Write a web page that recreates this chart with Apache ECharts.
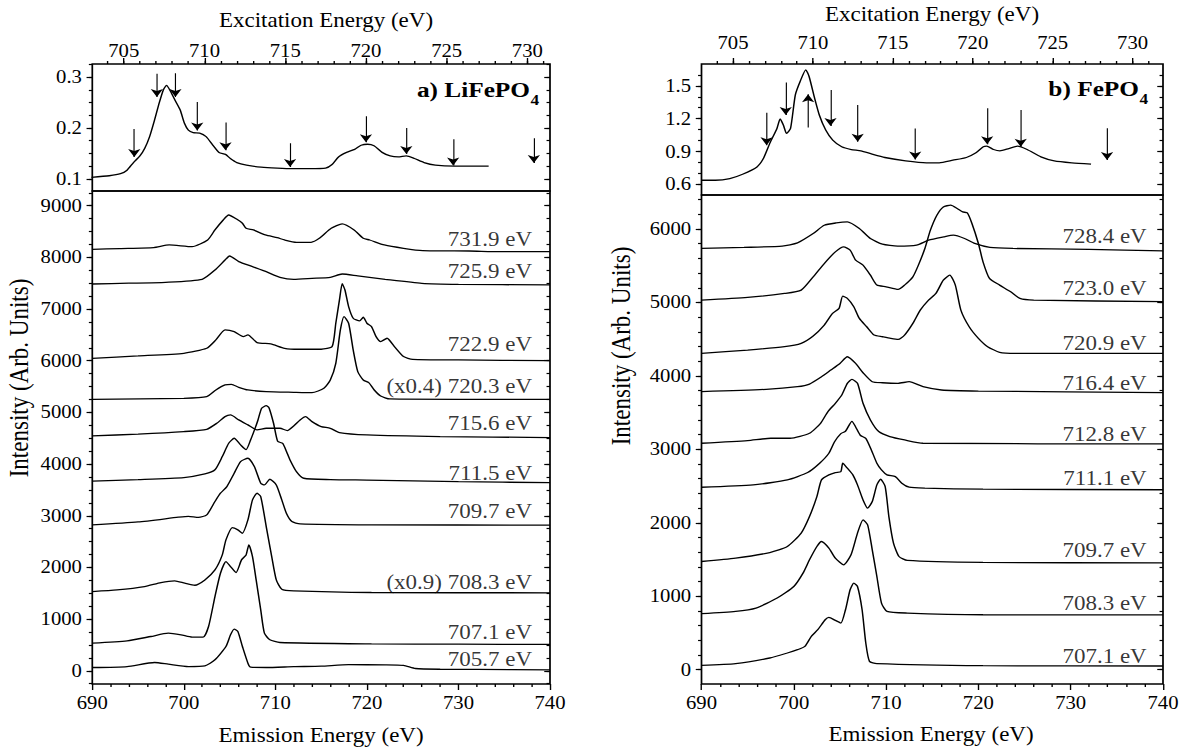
<!DOCTYPE html>
<html>
<head>
<meta charset="utf-8">
<script src="https://cdn.jsdelivr.net/npm/echarts@6.0.0/dist/echarts.min.js"></script>
<style>
  html, body { margin: 0; padding: 0; background: #fff; overflow: hidden; }
  /* the source figure is stretched sideways, so the chart is drawn narrower and widened */
  #main { width: 1030px; height: 752px; transform: scaleX(1.1505); transform-origin: 0 0; }
</style>
</head>
<body>
<div id="main"></div>
<script>
// ---- a) LiFePO4 absorption (excitation energy, arb. units)
const lfpXas = [[703.0,0.103],[704.1,0.106],[704.8,0.11],[705.2,0.117],[705.6,0.132],[706.0,0.145],[706.3,0.16],[706.6,0.183],[706.9,0.215],[707.2,0.25],[707.45,0.275],[707.65,0.284],[707.9,0.272],[708.2,0.253],[708.5,0.235],[708.75,0.21],[709.0,0.196],[709.3,0.191],[709.7,0.19],[710.1,0.183],[710.5,0.167],[710.9,0.152],[711.3,0.148],[711.6,0.14],[712.0,0.132],[712.6,0.127],[713.5,0.123],[714.5,0.121],[715.5,0.12],[716.5,0.12],[717.5,0.121],[717.9,0.128],[718.3,0.143],[718.8,0.152],[719.3,0.158],[719.7,0.166],[720.1,0.168],[720.5,0.165],[721.0,0.152],[721.5,0.145],[722.0,0.143],[722.5,0.145],[723.0,0.14],[723.6,0.132],[724.3,0.127],[725.5,0.125],[727.6,0.125]];
const lfpArrowX    = [705.65, 707.05, 708.2, 709.55, 711.3, 715.3, 720.0, 722.5, 725.4, 730.4];
const lfpArrowFrom = [0.198, 0.307, 0.308, 0.251, 0.211, 0.170, 0.223, 0.200, 0.178, 0.180];
const lfpArrowTo   = [0.143, 0.261, 0.261, 0.195, 0.156, 0.123, 0.172, 0.149, 0.126, 0.131];

// ---- a) LiFePO4 emission spectra (emission energy, intensity)
const lfp7319 = [[690,8155],[693,8170],[696.7,8188],[698.4,8240],[700.9,8207],[702.6,8336],[703.4,8530],[704.3,8723],[704.9,8820],[705.8,8736],[706.4,8659],[706.8,8562],[707.6,8530],[708.9,8433],[710.2,8381],[711,8336],[712.3,8291],[713.9,8291],[714.8,8368],[716.1,8562],[717.3,8646],[718.6,8530],[719.6,8368],[720.3,8336],[721.9,8240],[724,8175],[726.1,8130],[731.2,8123],[734.5,8110],[740,8110]];
const lfp7259 = [[690,7485],[694,7500],[698,7517],[702,7575],[703.4,7755],[704.5,7949],[705,8026],[706,7917],[707.5,7820],[709,7723],[710.5,7614],[712,7575],[714,7594],[716,7614],[717.3,7678],[719,7640],[722,7575],[726,7498],[730,7478],[740,7466]];
const lfp7229 = [[690,6047],[695,6093],[700,6144],[702.5,6241],[703.5,6403],[704.5,6596],[705.5,6564],[706.5,6467],[707,6500],[708,6352],[709.5,6326],[711,6241],[712.5,6222],[715,6222],[716.2,6274],[716.6,6725],[717,7176],[717.3,7490],[717.6,7369],[718,7047],[718.5,6822],[719.2,6770],[719.6,6841],[720,6725],[720.5,6661],[721,6467],[721.5,6371],[722.2,6435],[723,6274],[724,6080],[725,6028],[730,6015],[740,6002]];
const lfp7203 = [[690,5254],[700,5273],[702.5,5305],[703.5,5434],[704.5,5531],[705.2,5544],[706,5486],[707,5434],[709,5402],[712,5389],[714,5382],[715.3,5466],[716,5627],[716.6,5950],[717.1,6596],[717.5,6854],[718,6725],[718.5,6209],[719,5789],[719.6,5627],[720.2,5576],[720.8,5434],[721.5,5318],[722.5,5260],[730,5254],[740,5254]];
const lfp7156 = [[690,4545],[695,4580],[700,4629],[702.5,4674],[703.6,4790],[704.5,4919],[705.1,4951],[706,4855],[707,4758],[708,4661],[709,4693],[710.5,4693],[711.3,4648],[712,4738],[712.7,4855],[713.3,4919],[714,4822],[715,4726],[716,4693],[717,4610],[720,4565],[728,4533],[740,4513]];
const lfp7115 = [[690,3670],[695,3700],[700,3740],[702.3,3810],[703.4,3890],[704.2,4145],[704.9,4403],[705.5,4500],[706.2,4371],[706.8,4280],[707.3,4470],[707.8,4700],[708.1,4854],[708.5,5080],[709,5130],[709.3,5090],[709.8,4790],[710.25,4440],[710.8,4400],[711.2,4250],[711.6,4081],[712.3,3855],[713.1,3726],[716,3700],[720,3690],[730,3660],[740,3640]];
const lfp7097 = [[690,2824],[695,2880],[699.4,2972],[700.5,2990],[701.6,2970],[702.5,3017],[703.4,3275],[704,3436],[704.7,3565],[705.5,3823],[706.2,4049],[707,4113],[707.7,3952],[708.4,3630],[708.8,3597],[709.4,3707],[710.1,3597],[710.7,3307],[711.2,3049],[711.8,2888],[712.7,2843],[720.5,2824],[740,2820]];
const lfp7083 = [[690,1534],[692.7,1566],[695.7,1630],[697.5,1708],[699,1740],[700.1,1695],[701.2,1656],[702.3,1759],[703.4,1952],[704.2,2243],[704.6,2533],[705.3,2771],[705.9,2727],[706.4,2662],[707,2920],[707.5,3307],[708,3436],[708.4,3371],[709,2791],[709.6,2211],[710.1,1759],[710.7,1579],[712,1547],[720.5,1515],[740,1510]];
const lfp7071 = [[690,535],[693.8,580],[696.4,664],[698.3,728],[699.7,696],[700.9,651],[702.1,651],[702.7,857],[703.4,1437],[704,1888],[704.6,2114],[705.1,2017],[705.7,1901],[706.3,2146],[706.8,2243],[707.1,2437],[707.5,2211],[707.9,1759],[708.4,1179],[708.8,728],[709.4,600],[710.5,548],[720.5,522],[730,515],[740,510]];
const lfp7057 = [[690,64],[693.8,83],[696.8,161],[698.3,129],[700.5,83],[702.3,96],[703.4,213],[704.6,470],[705.1,696],[705.5,806],[705.9,761],[706.4,470],[707,148],[707.3,70],[709,64],[712,80],[715,90],[718,118],[722,116],[724,105],[725.3,45],[728,30],[732,28],[740,20]];
const lfpSpectra = [lfp7319, lfp7259, lfp7229, lfp7203, lfp7156, lfp7115, lfp7097, lfp7083, lfp7071, lfp7057];
const lfpLabels  = ['731.9 eV', '725.9 eV', '722.9 eV', '(x0.4) 720.3 eV', '715.6 eV', '711.5 eV', '709.7 eV', '(x0.9) 708.3 eV', '707.1 eV', '705.7 eV'];
const lfpLabelY  = [8337, 7723, 6306, 5499, 4791, 3824, 3081, 1708, 741, 213];

// ---- b) FePO4 absorption
const fpXas = [[703.0,0.637],[703.9,0.637],[704.8,0.652],[705.6,0.692],[706.5,0.759],[706.9,0.836],[707.3,0.974],[707.75,1.111],[707.95,1.197],[708.15,1.142],[708.35,1.065],[708.6,1.111],[708.9,1.417],[709.2,1.54],[709.55,1.647],[709.76,1.586],[710.08,1.402],[710.4,1.234],[710.8,1.096],[711.24,1.004],[711.8,0.943],[712.4,0.918],[713,0.906],[713.7,0.876],[714.5,0.845],[715.8,0.814],[717.1,0.796],[717.9,0.796],[718.76,0.82],[719.6,0.845],[720.2,0.888],[720.66,0.943],[720.87,0.949],[721.3,0.918],[721.7,0.906],[722.25,0.927],[722.8,0.949],[723.4,0.918],[724.26,0.851],[725.1,0.814],[726.2,0.796],[727.4,0.784]];
const fpArrowX    = [707.1, 708.3, 709.7, 711.1, 712.8, 716.4, 720.9, 723.0, 728.4];
const fpArrowFrom = [1.255, 1.53, 1.12, 1.463, 1.326, 1.111, 1.295, 1.28, 1.113];
const fpArrowTo   = [0.958, 1.234, 1.423, 1.133, 0.989, 0.827, 0.967, 0.943, 0.822];

// ---- b) FePO4 emission spectra
const fp7284 = [[690,5735],[694.6,5749],[698.75,5767],[700.4,5811],[702.1,5938],[703.3,6051],[704.6,6083],[705.8,6097],[707.1,6007],[708.3,5871],[709.6,5794],[711.25,5767],[713.3,5780],[714.6,5848],[716.25,5893],[717.3,5916],[718.5,5871],[719.6,5803],[721.25,5749],[723.75,5735],[732,5722],[740,5703]];
const fp7230 = [[690,5032],[695,5068],[699,5123],[700.8,5168],[702.1,5349],[703.3,5530],[704.5,5689],[705.4,5757],[706.1,5712],[706.7,5576],[707.5,5508],[708.3,5372],[709,5236],[710,5213],[711.3,5177],[712,5236],[712.9,5349],[713.5,5508],[714.2,5735],[714.8,5984],[715.5,6188],[716.2,6301],[717,6324],[717.7,6279],[718.3,6233],[718.8,6219],[719.3,6075],[720,5803],[720.5,5553],[721.2,5327],[722.3,5236],[723.5,5145],[724.5,5055],[726,5032],[740,5010]];
const fp7209 = [[690,4307],[695,4352],[699,4398],[700.8,4443],[702.1,4543],[703.3,4692],[704.2,4851],[704.9,4919],[705.3,5086],[705.8,5055],[706.5,4942],[707.1,4783],[707.9,4669],[708.7,4556],[709.6,4533],[710.5,4511],[711.3,4497],[712,4556],[712.9,4715],[713.7,4896],[714.6,5032],[715.4,5123],[716.2,5304],[716.9,5372],[717.5,5236],[718.1,4896],[719,4669],[720,4511],[721,4398],[722.3,4321],[724,4307],[740,4307]];
const fp7164 = [[690,3785],[697,3817],[700.4,3853],[701.7,3889],[703,3989],[704,4079],[705,4170],[705.8,4261],[706.7,4170],[707.5,4043],[708.5,3921],[709.6,3907],[711.3,3899],[712.5,3921],[714,3853],[716,3808],[720,3794],[740,3771]];
const fp7128 = [[690,3083],[695,3119],[697.5,3151],[699.6,3151],[701.7,3219],[702.9,3355],[703.7,3514],[704.5,3627],[705.2,3740],[705.8,3899],[706.3,3953],[706.9,3899],[707.5,3627],[708.3,3400],[709.2,3242],[710.4,3174],[712,3128],[714,3083],[740,3074]];
const fp7111 = [[690,2484],[695.6,2516],[699.3,2584],[701.5,2684],[702.8,2811],[703.8,2947],[704.4,3100],[705.1,3214],[705.6,3246],[706.3,3382],[706.7,3305],[707.2,3192],[707.8,3150],[708.4,2992],[709,2811],[709.5,2720],[710.1,2652],[711,2629],[711.7,2539],[712.5,2484],[714.2,2471],[720.5,2457],[740,2450]];
const fp7097 = [[690,1473],[693.7,1518],[697.4,1595],[699.3,1677],[700.8,1859],[701.7,2085],[702.5,2357],[703,2584],[703.8,2652],[704.5,2684],[705.1,2697],[705.3,2811],[705.8,2743],[706.4,2652],[706.9,2516],[707.5,2312],[708,2199],[708.5,2289],[709,2516],[709.4,2593],[709.9,2493],[710.3,2085],[710.8,1723],[711.4,1541],[712.3,1487],[720.5,1460],[740,1455]];
const fp7083 = [[690,762],[693.7,794],[695.9,839],[698.2,975],[700,1133],[701,1315],[701.7,1496],[702.5,1677],[703,1745],[703.8,1655],[704.5,1518],[705.4,1428],[706.2,1564],[706.9,1859],[707.5,2040],[708,1972],[708.5,1632],[709,1269],[709.5,907],[710.1,794],[712.3,771],[720.5,748],[740,745]];
const fp7071 = [[690,59],[693.7,82],[697.4,159],[699.3,227],[700.4,272],[701.2,317],[701.9,454],[702.6,544],[703.4,680],[703.8,712],[704.5,671],[705.1,635],[705.6,816],[706.1,1088],[706.5,1179],[706.9,1133],[707.4,816],[707.8,363],[708.2,113],[709,82],[720.5,54],[740,50]];
const fpSpectra = [fp7284, fp7230, fp7209, fp7164, fp7128, fp7111, fp7097, fp7083, fp7071];
const fpLabels  = ['728.4 eV', '723.0 eV', '720.9 eV', '716.4 eV', '712.8 eV', '711.1 eV', '709.7 eV', '708.3 eV', '707.1 eV'];
const fpLabelY  = [5895, 5193, 4445, 3901, 3197, 2608, 1619, 898, 173];

// tick values
const excMajor = [705, 710, 715, 720, 725, 730];
const excMinor = [704,705,706,707,708,709,710,711,712,713,714,715,716,717,718,719,720,721,722,723,724,725,726,727,728,729,730,731];
const lfpXasTicks = [0.1, 0.2, 0.3];
const lfpXasMinor = [0.1, 0.125, 0.15, 0.175, 0.2, 0.225, 0.25, 0.275, 0.3, 0.325];
const lfpRxsTicks = [0, 1000, 2000, 3000, 4000, 5000, 6000, 7000, 8000, 9000];
const fpXasTicks = [0.6, 0.9, 1.2, 1.5];
const fpXasMinor = [0.6, 0.7, 0.8, 0.9, 1.0, 1.1, 1.2, 1.3, 1.4, 1.5, 1.6];
const fpRxsTicks = [0, 1000, 2000, 3000, 4000, 5000, 6000];

function steps(from, to, step) {
  const out = [];
  for (let v = from; v <= to + 1e-9; v += step) out.push(v);
  return out;
}
const lfpRxsMinor = steps(-250, 9250, 250);
const fpRxsMinor = steps(0, 6400, 200);

// page x (in the 1185 px picture) -> chart x (the div is widened by 1.1505)
const SX = 1.1505;
const X = px => px / SX;

const FONT = 'Liberation Serif';
const lbl = { fontFamily: FONT, fontSize: 18, color: '#000' };
const tickLine = { color: '#000', width: 1.2 };

function yAxes(grid, min, max, major, minor, digits) {
  const base = { type: 'value', gridIndex: grid, min: min, max: max,
    axisLine: { show: false, onZero: false }, splitLine: { show: false } };
  return [
    Object.assign({}, base, { position: 'left',
      axisTick: { customValues: major, length: 5, lineStyle: tickLine },
      axisLabel: Object.assign({ customValues: major, margin: 9,
        formatter: v => Number(v).toFixed(digits) }, lbl) }),
    Object.assign({}, base, { position: 'left',
      axisTick: { customValues: minor, length: 3, lineStyle: tickLine },
      axisLabel: { show: false, customValues: minor } }),
    Object.assign({}, base, { position: 'right',
      axisTick: { customValues: major, inside: true, length: 5, lineStyle: tickLine },
      axisLabel: { show: false, customValues: major } }),
    Object.assign({}, base, { position: 'right',
      axisTick: { customValues: minor, inside: true, length: 3, lineStyle: tickLine },
      axisLabel: { show: false, customValues: minor } })
  ];
}

function excAxes(grid, min, max, margin) {
  const base = { type: 'value', gridIndex: grid, min: min, max: max, position: 'top',
    axisLine: { show: false, onZero: false }, splitLine: { show: false } };
  return [
    Object.assign({}, base, {
      axisTick: { customValues: excMajor, length: 6, lineStyle: tickLine },
      axisLabel: Object.assign({ customValues: excMajor, margin: margin }, lbl) }),
    Object.assign({}, base, {
      axisTick: { customValues: excMinor, length: 3, lineStyle: tickLine },
      axisLabel: { show: false, customValues: excMinor } })
  ];
}

function emiAxis(grid) {
  return { type: 'value', gridIndex: grid, min: 690, max: 740, interval: 10, position: 'bottom',
    axisLine: { show: false, onZero: false }, splitLine: { show: false },
    axisTick: { length: 6, lineStyle: tickLine },
    minorTick: { show: true, splitNumber: 5, length: 3, lineStyle: tickLine },
    axisLabel: Object.assign({ margin: 10 }, lbl) };
}

// x axes: 0,1 exc LFP | 2 emi LFP | 3,4 exc FP | 5 emi FP
const xAxis = [].concat(
  excAxes(0, 703.05, 731.4, 4),
  [emiAxis(1)],
  excAxes(2, 703.03, 731.9, 12),
  [emiAxis(3)]
);
// y axes: 0-3 LFP xas | 4-7 LFP rxes | 8-11 FP xas | 12-15 FP rxes
const yAxis = [].concat(
  yAxes(0, 0.076, 0.326, lfpXasTicks, lfpXasMinor, 1),
  yAxes(1, -255, 9284, lfpRxsTicks, lfpRxsMinor, 0),
  yAxes(2, 0.502, 1.70, fpXasTicks, fpXasMinor, 1),
  yAxes(3, -195, 6463, fpRxsTicks, fpRxsMinor, 0)
);

const curveStyle = { color: '#000', width: 1.3 };
function curve(data, xi, yi) {
  return { type: 'line', data: data, xAxisIndex: xi, yAxisIndex: yi, showSymbol: false,
    symbol: 'none', smooth: 0.2, lineStyle: curveStyle, silent: true, animation: false };
}
function arrows(xs, from, to, xi, yi) {
  return { type: 'lines', coordinateSystem: 'cartesian2d', xAxisIndex: xi, yAxisIndex: yi,
    symbol: ['none', 'arrow'], symbolSize: 8, silent: true, animation: false,
    lineStyle: { color: '#000', width: 1, opacity: 1, curveness: 0 },
    data: xs.map((x, i) => ({ coords: [[x, from[i]], [x, to[i]]] })) };
}
function tags(names, ys, x, xi, yi) {
  return { type: 'scatter', xAxisIndex: xi, yAxisIndex: yi, symbolSize: 1, silent: true,
    animation: false, itemStyle: { color: 'rgba(0,0,0,0)' },
    label: { show: true, position: 'left', distance: 0, fontFamily: FONT, fontSize: 20, color: '#000',
      formatter: p => p.data[2] },
    data: names.map((n, i) => [x, ys[i], n]) };
}

const series = [];
series.push(curve(lfpXas, 0, 0));
series.push(arrows(lfpArrowX, lfpArrowFrom, lfpArrowTo, 0, 0));
lfpSpectra.forEach(s => series.push(curve(s, 2, 4)));
series.push(tags(lfpLabels, lfpLabelY, 738.1, 2, 4));
series.push(curve(fpXas, 3, 8));
series.push(arrows(fpArrowX, fpArrowFrom, fpArrowTo, 3, 8));
fpSpectra.forEach(s => series.push(curve(s, 5, 12)));
series.push(tags(fpLabels, fpLabelY, 738.3, 5, 12));

const titleFont = '20px "Liberation Serif"';
function txt(text, x, y, font, align, rot) {
  return { type: 'text', x: X(x), y: y, rotation: rot || 0, silent: true,
    style: { text: text, font: font, fill: '#000', textAlign: align || 'center', textVerticalAlign: 'middle' } };
}

const frame = { show: true, borderColor: '#000', borderWidth: 1.5, containLabel: false };
const L0 = 92.3, L1 = 550, R0 = 701.5, R1 = 1163;

const chart = echarts.init(document.getElementById('main'), null, { renderer: 'svg' });
chart.setOption({
  backgroundColor: '#fff',
  animation: false,
  grid: [
    Object.assign({ left: X(L0), top: 64, width: X(L1) - X(L0), height: 127 }, frame),
    Object.assign({ left: X(L0), top: 191, width: X(L1) - X(L0), height: 493 }, frame),
    Object.assign({ left: X(R0), top: 64, width: X(R1) - X(R0), height: 131 }, frame),
    Object.assign({ left: X(R0), top: 195, width: X(R1) - X(R0), height: 489 }, frame)
  ],
  xAxis: xAxis,
  yAxis: yAxis,
  series: series,
  graphic: [
    txt('Excitation Energy (eV)', 326, 21, titleFont),
    txt('Excitation Energy (eV)', 932, 15, titleFont),
    txt('Emission Energy (eV)', 321, 736, titleFont),
    txt('Emission Energy (eV)', 931, 735, titleFont),
    txt('Intensity (Arb. Units)', 19, 378, '23px "Liberation Serif"', 'center', Math.PI / 2),
    txt('Intensity (Arb. Units)', 621, 346, '23px "Liberation Serif"', 'center', Math.PI / 2),
    txt('a) LiFePO', 530, 90, 'bold 22px "Liberation Serif"', 'right'),
    txt('4', 539, 100, 'bold 15px "Liberation Serif"', 'right'),
    txt('b) FePO', 1139, 89, 'bold 22px "Liberation Serif"', 'right'),
    txt('4', 1148, 99, 'bold 15px "Liberation Serif"', 'right')
  ]
});
</script>
</body>
</html>
